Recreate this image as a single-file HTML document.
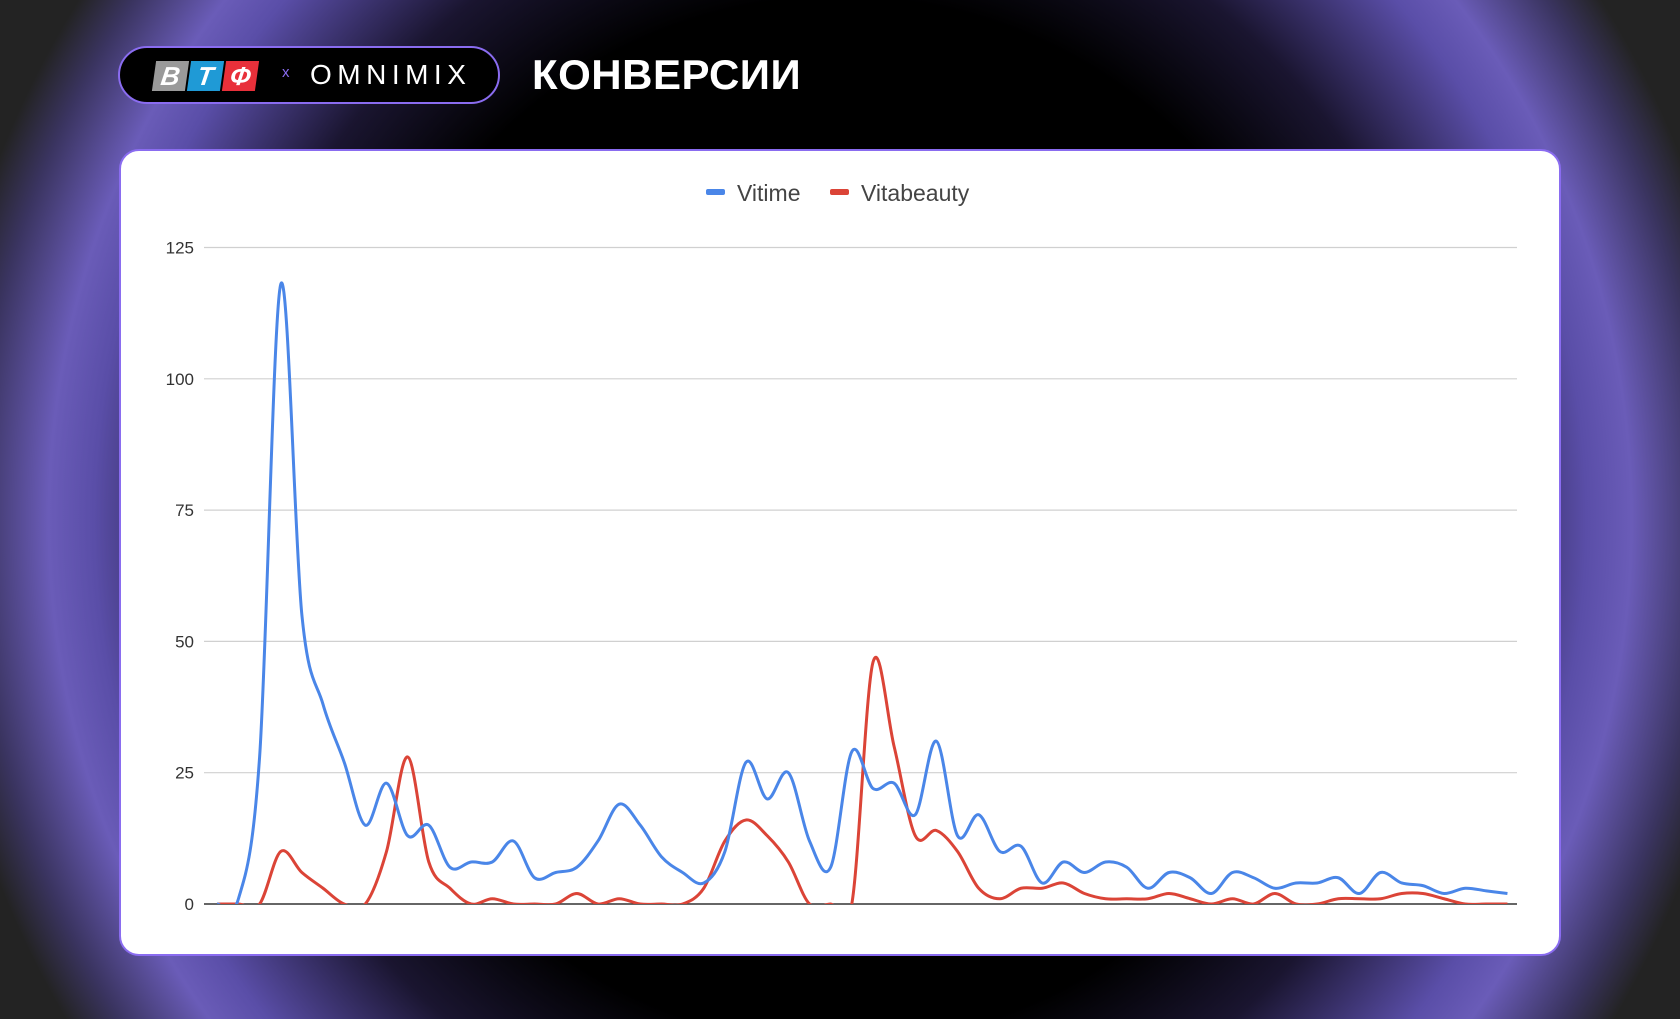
<!DOCTYPE html>
<html><head><meta charset="utf-8">
<style>
html,body{margin:0;padding:0}
body{width:1680px;height:1019px;overflow:hidden;position:relative;
background:radial-gradient(ellipse 910px 950px at 840px 520px,#000 0%,#000 55%,#1a1530 68%,#5a4ea8 82%,#6a5cb8 87%,#3a3460 95%,#232323 100%);font-family:"Liberation Sans",sans-serif}
.pill{position:absolute;left:118px;top:46px;width:378px;height:54px;border:2px solid #8a6cf0;border-radius:30px;background:#000}
.lb{position:absolute;top:13px;height:30px;width:33px;color:#fff;font:italic bold 26px "Liberation Sans",sans-serif;text-align:center;line-height:30px;transform:skewX(-8deg)}
.title{position:absolute;left:532px;top:51px;color:#fff;font:bold 42px "Liberation Sans","Noto Sans CJK SC",sans-serif;letter-spacing:0.5px}
.card{position:absolute;left:119px;top:149px;width:1438px;height:803px;background:#fff;border:2px solid #8a6cf0;border-radius:20px}
</style></head>
<body>
<div class="pill">
 <div class="lb" style="left:34px;background:#9a9a9a">В</div>
 <div class="lb" style="left:69px;background:#1f9ad6">Т</div>
 <div class="lb" style="left:104px;background:#e8303a">Ф</div>
 <div style="position:absolute;left:162px;top:16px;color:#8a6cf0;font-size:15px">x</div>
 <div style="position:absolute;left:190px;top:11px;color:#fff;font-size:28px;letter-spacing:5.5px">OMNIMIX</div>
</div>
<div class="title">КОНВЕРСИИ</div>
<div class="card"></div>
<svg id="chart" width="1680" height="1019" style="position:absolute;left:0;top:0"></svg>
<script>
const categories = Array.from({length:62},(_,i)=>'d'+(i+1));
const vitime = [0,1,28,118,55,38,27,15,23,13,15,7,8,8,12,5,6,7,12,19,15,9,6,4,10,27,20,25,12,7,29,22,23,17,31,13,17,10,11,4,8,6,8,7,3,6,5,2,6,5,3,4,4,5,2,6,4,3.5,2,3,2.5,2];
const vitabeauty = [0,0,0,10,6,3,0,0,10,28,8,3,0,1,0,0,0,2,0,1,0,0,0,3,12,16,13,8,0,0,0,46,30,13,14,10,3,1,3,3,4,2,1,1,1,2,1,0,1,0,2,0,0,1,1,1,2,2,1,0,0,0];
const yTicks = [0,25,50,75,100,125];
const seriesNames = ['Vitime','Vitabeauty'];
const colors = ['#4a86e8','#db4437'];

const NS='http://www.w3.org/2000/svg';
const svg=document.getElementById('chart');
const X0=217.3, DX=21.15, Y0=904, PY=5.252;
const xs=i=>X0+DX*i;
const ys=v=>Y0-v*PY;
function mk(t,a){const e=document.createElementNS(NS,t);for(const k in a)e.setAttribute(k,a[k]);svg.appendChild(e);return e;}
yTicks.forEach(t=>{
  const l=mk('line',{x1:204,x2:1517,y1:ys(t),y2:ys(t),stroke:t===0?'#333':'#d0d0d0','stroke-width':t===0?1.5:1.2});
  
  
  const tx=mk('text',{x:194,y:ys(t)+6,'text-anchor':'end','font-size':17,fill:'#333','font-family':'Liberation Sans, sans-serif'});
  tx.textContent=t;
  
  
});
const defs=mk('defs',{});
const cp=document.createElementNS(NS,'clipPath');cp.setAttribute('id','pc');
const cr=document.createElementNS(NS,'rect');cr.setAttribute('x',190);cr.setAttribute('y',200);cr.setAttribute('width',1340);cr.setAttribute('height',Y0-200);
cp.appendChild(cr);defs.appendChild(cp);
function pathFor(vals){
  const p=vals.map((v,i)=>[xs(i),ys(v)]);
  let d='M'+p[0][0]+','+p[0][1];
  const k=0.5/3;
  for(let i=0;i<p.length-1;i++){
    const a=p[Math.max(i-1,0)],b=p[i],c=p[i+1],e=p[Math.min(i+2,p.length-1)];
    const c1=[b[0]+(c[0]-a[0])*k,b[1]+(c[1]-a[1])*k];
    const c2=[c[0]-(e[0]-b[0])*k,c[1]-(e[1]-b[1])*k];
    d+=' C'+c1[0]+','+c1[1]+' '+c2[0]+','+c2[1]+' '+c[0]+','+c[1];
  }
  return d;
}
[vitabeauty,vitime].forEach((vals,j)=>{
  const idx=j===0?1:0;
  const pth=mk('path',{d:pathFor(vals),fill:'none',stroke:colors[idx],'stroke-width':3,'clip-path':'url(#pc)','stroke-linejoin':'round'});
  
  
});
const lx=[706,830];
seriesNames.forEach((n,i)=>{
  const r=mk('rect',{x:lx[i],y:189,width:19,height:6,rx:2,fill:colors[i]});
  
  
  const t=mk('text',{x:lx[i]+31,y:201,'font-size':23,fill:'#444','font-family':'Liberation Sans, sans-serif'});
  t.textContent=n;
  
  
});
</script>
</body></html>
